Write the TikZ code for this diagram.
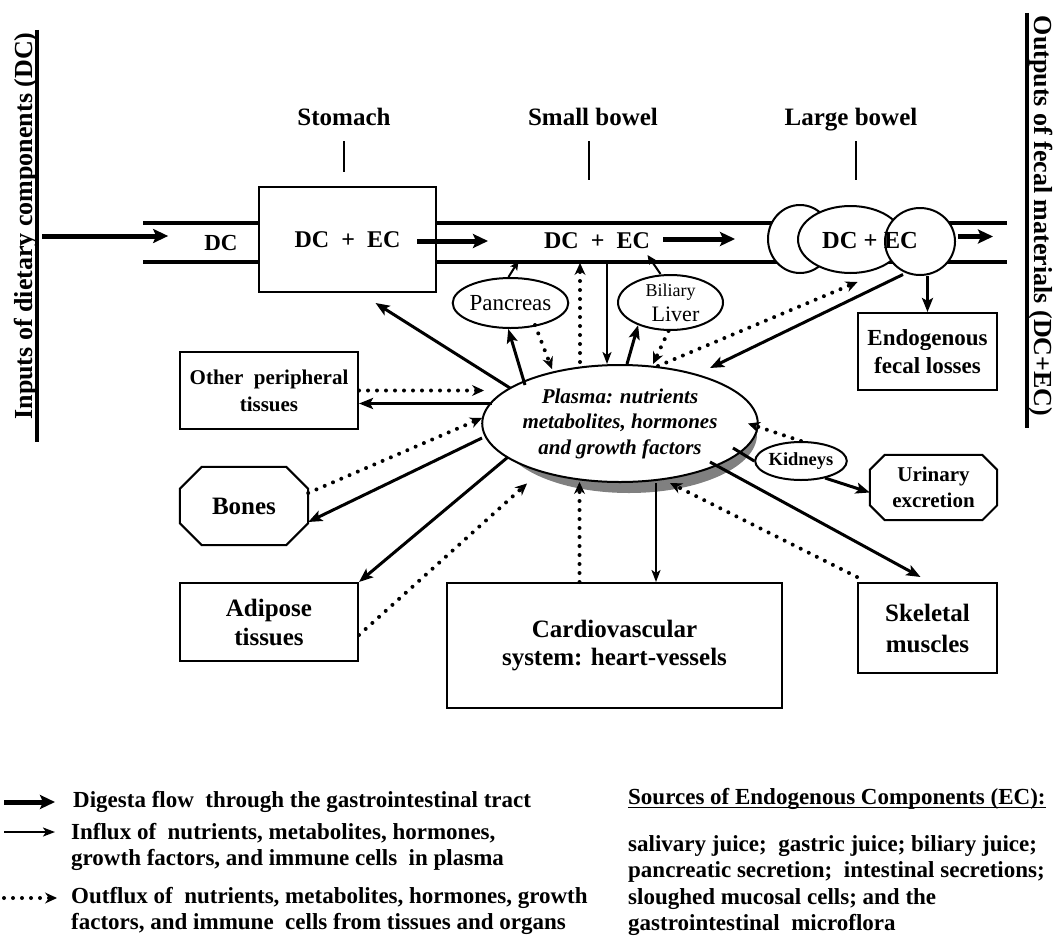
\documentclass[tikz,border=0pt]{standalone}
\usepackage{fontspec}
\setmainfont{Liberation Serif}
\usetikzlibrary{arrows.meta,calc,shapes.geometric}

% octagonal frame round a node: #1 node, #2 corner cut
\newcommand{\octframe}[2]{%
  \draw[line width=2pt] ([xshift=#2]#1.north west) -- ([xshift=-#2]#1.north east)
    -- ([yshift=-#2]#1.north east) -- ([yshift=#2]#1.south east)
    -- ([xshift=-#2]#1.south east) -- ([xshift=#2]#1.south west)
    -- ([yshift=#2]#1.south west) -- ([yshift=-#2]#1.north west) -- cycle;}

\tikzset{
  organ/.style={draw, line width=2pt, fill=white, inner sep=0pt, align=center,
    font=\bfseries\fontsize{25}{29}\selectfont},
  gland/.style={ellipse, draw, line width=2pt, fill=white, inner sep=0pt},
  dcec/.style={inner sep=0pt, font=\bfseries\fontsize{24}{28}\selectfont},
  gutlbl/.style={inner sep=0pt, anchor=base, font=\bfseries\fontsize{25}{29}\selectfont},
  sidelbl/.style={inner sep=0pt, font=\bfseries\fontsize{26}{30}\selectfont},
  legend/.style={inner sep=0pt, anchor=west, align=left, font=\bfseries\fontsize{23}{26.3}\selectfont},
  tract/.style={line width=4pt},
  tick/.style={line width=1.5pt},
  flow/.style={line width=5pt, -{Stealth[length=15pt,width=14pt,inset=3pt]}},
  influx/.style={line width=3pt, -{Stealth[length=14pt,width=11pt,inset=3pt]}},
  thinflux/.style={line width=2pt, -{Stealth[length=12pt,width=9pt,inset=3pt]}},
  smallflux/.style={line width=2pt, -{Stealth[length=9pt,width=8pt,inset=2pt]}},
  outflux/.style={line width=4pt, line cap=round, dash pattern=on 0pt off 9pt,
    -{Stealth[length=12pt,width=11pt,inset=4pt,line width=1pt]}},
}

\begin{document}
\begin{tikzpicture}[x=1pt,y=-1pt]
  \useasboundingbox (0,0) rectangle (1059,950);

  % side titles
  \node[sidelbl, rotate=90] (inputs) at (26,226) {Inputs of dietary components (DC)};
  \draw[line width=4pt] (37,30) -- (37,442);
  \node[sidelbl, rotate=-90] (outputs) at (1041,216) {Outputs of fecal materials (DC+EC)};
  \draw[line width=4pt] (1027,13) -- (1027,428);

  % gastrointestinal tract
  \coordinate (tracttop) at (0,223);
  \coordinate (tractbot) at (0,262);
  \draw[tract] (143,223) -- (1007,223);
  \draw[tract] (143,262) -- (1007,262);

  \node[organ, minimum width=177pt, minimum height=105pt,
    font=\bfseries\fontsize{24}{28}\selectfont] (stomach) at (347.5,239.5) {DC~ +~ EC};
  \node[dcec, font=\bfseries\fontsize{23}{27}\selectfont] (dcin) at (221,243) {DC};
  \node[dcec] (dcsb) at (597,241) {DC~ +~ EC};

  \node[gland, minimum width=64pt, minimum height=68pt] (lbL) at (800,239) {};
  \node[gland, minimum width=105pt, minimum height=67pt] (lbM) at (850.5,239.5) {};
  \node[gland, minimum width=70pt, minimum height=67pt] (lbR) at (920,241.5) {};
  \node[dcec, font=\bfseries\fontsize{24.5}{28}\selectfont] (dclb) at (870,241) {DC + EC};

  \node[gutlbl] (stlbl) at (344,125) {Stomach};
  \node[gutlbl] (sblbl) at (593,125) {Small bowel};
  \node[gutlbl] (lblbl) at (851,125) {Large bowel};
  \draw[tick] ([yshift=-16pt]stlbl.base) -- ++(0,31);
  \draw[tick] ([xshift=-4pt,yshift=-16pt]sblbl.base) -- ++(0,39);
  \draw[tick] ([xshift=5pt,yshift=-16pt]lblbl.base) -- ++(0,39);

  \draw[flow] ([xshift=4pt,yshift=-10pt]inputs.south) -- ++(126,0);
  \draw[flow] ([xshift=-20pt,yshift=-1.5pt]stomach.east) -- ++(71,0);
  \draw[flow] ([xshift=13pt,yshift=2pt]dcsb.east) -- ++(72,0);
  \draw[flow] ([xshift=2pt,yshift=5pt]lbR.east) -- ++(35,0);

  % glands and plasma
  \node[gland, minimum width=105pt, minimum height=50pt,
    font=\fontsize{23}{27}\selectfont] (pancreas) at (510.5,303) {Pancreas};
  \node[gland, minimum width=105pt, minimum height=55pt, align=center,
    font=\fontsize{22}{25}\selectfont] (liver) at (670.5,302.5)
    {{\fontsize{18}{25}\selectfont Biliary}\\\hspace*{10pt}Liver};
  \node[ellipse, fill=black!50, inner sep=0pt, minimum width=256pt,
    minimum height=117pt] (plasmashade) at (629,434.5) {};
  \node[gland, minimum width=256pt, minimum height=117pt, align=center,
    font=\bfseries\itshape\fontsize{21}{25.5}\selectfont] (plasma) at (620,423.5)
    {Plasma: nutrients\\metabolites, hormones\\and growth factors};

  % organs and tissues
  \node[organ, minimum width=139pt, minimum height=77pt,
    font=\bfseries\fontsize{23}{28}\selectfont] (fecal) at (927.5,351.5) {Endogenous\\fecal losses};
  \node[organ, minimum width=178pt, minimum height=77pt,
    font=\bfseries\fontsize{21}{27}\selectfont] (other) at (269,390.5) {Other~ peripheral\\tissues};
  \node[inner sep=0pt, minimum width=128pt, minimum height=78pt,
    font=\bfseries\fontsize{25}{29}\selectfont] (bones) at (244,506) {Bones};
  \octframe{bones}{22pt}
  \node[organ, minimum width=178pt, minimum height=78pt] (adipose) at (269,622) {Adipose\\tissues};
  \node[organ, minimum width=335pt, minimum height=125pt,
    font=\bfseries\fontsize{25}{28}\selectfont] (cardio) at (614.5,645.5) {Cardiovascular\\system: heart-vessels};
  \node[organ, minimum width=139pt, minimum height=90pt,
    font=\bfseries\fontsize{25}{31}\selectfont] (skeletal) at (927.5,628) {Skeletal\\muscles};
  \node[gland, minimum width=88pt, minimum height=38pt,
    font=\bfseries\fontsize{18.5}{22}\selectfont] (kidneys) at (801,461) {Kidneys};
  \node[inner sep=0pt, minimum width=127pt, minimum height=65pt, align=center,
    font=\bfseries\fontsize{21}{26}\selectfont] (urinary) at (933.5,487.5) {Urinary\\excretion};
  \octframe{urinary}{15pt}

  % exchanges between plasma and the tract
  \draw[influx] ($(plasma)+(-110,-35.5)$) -- ($(stomach.south)+(28,10)$);
  \draw[influx] ($(plasma)+(-95,-38.5)$) -- (pancreas.265);
  \draw[smallflux] ($(pancreas.north)+(-2,0)$) -- ($(pancreas.north)+(8,-16)$);
  \draw[outflux] ($(pancreas)+(24.5,22)$) -- ($(plasma)+(-68,-54.5)$);
  \draw[outflux] ($(plasma)+(-40,-61.5)$) -- ($(plasma |- tractbot)+(-40,1)$);
  \draw[thinflux] ($(plasma |- tractbot)+(-13,0)$) -- ($(plasma)+(-13,-59.5)$);
  \draw[influx] ($(plasma)+(7,-59.5)$) -- (liver.215);
  \draw[smallflux] ($(liver.north)+(-10,0)$) -- ($(liver.north)+(-23,-19)$);
  \draw[outflux] ($(liver.south)+(-2,0)$) -- ($(plasma)+(33,-59.5)$);
  \draw[outflux] ($(plasma)+(38,-57.5)$) -- ($(lbM.south)+(7,8)$);
  \draw[influx] ($(lbR)+(-17,33)$) -- ($(plasma)+(90,-55.5)$);
  \draw[influx] (lbR.south -| fecal) -- (fecal.north);

  % exchanges between plasma and the tissues
  \draw[outflux] (other.east) -- ($(other.east -| plasma)+(-136,0)$);
  \draw[influx] ($(other.east -| plasma)+(-128,13)$) -- ([yshift=-13pt]other.east);
  \draw[outflux] ([yshift=13pt]bones.east) -- ($(plasma)+(-138,-5.5)$);
  \draw[influx] ($(plasma)+(-138,14.5)$) -- ([yshift=-16pt]bones.east);
  \draw[influx] ($(plasma)+(-112,33.5)$) -- (adipose.north east);
  \draw[outflux] ([yshift=-13pt]adipose.east) -- ($(plasma)+(-93,60)$);
  \draw[outflux] ($(cardio.north)+(-35,0)$) -- ($(plasma)+(-40.5,58.5)$);
  \draw[thinflux] ($(plasma)+(36,59.5)$) -- ($(cardio.north)+(41.5,0)$);
  \draw[influx] ($(plasma)+(90,38.5)$) -- ($(skeletal.north)+(-7,-5)$);
  \draw[outflux] ([yshift=5pt]skeletal.north west) -- ($(plasma)+(50,59.5)$);
  \draw[line width=3pt] ($(plasma)+(113,24.5)$) -- (kidneys.west);
  \draw[outflux] (kidneys.north) -- ($(plasma)+(128,0)$);
  \draw[influx] ($(kidneys)+(24,17)$) -- ([yshift=-5pt]urinary.west);

  % legend
  \node[legend] (lgflow) at (73,802) {Digesta flow~ through the gastrointestinal tract};
  \draw[flow] ([xshift=-69pt]lgflow.west) -- ([xshift=-18pt]lgflow.west);
  \node[legend] (lgin) at (71,847) {Influx of~ nutrients, metabolites, hormones,\\growth factors, and immune cells~ in plasma};
  \draw[thinflux] ([xshift=-67pt,yshift=15pt]lgin.west) -- ([xshift=-16pt,yshift=15pt]lgin.west);
  \node[legend] (lgout) at (71,911) {Outflux of~ nutrients, metabolites, hormones, growth\\factors, and immune~ cells from tissues and organs};
  \draw[outflux] ([xshift=-67pt,yshift=13pt]lgout.west) -- ([xshift=-14pt,yshift=13pt]lgout.west);

  \node[legend] (lgsrc) at (628,799) {Sources of Endogenous Components (EC):};
  \draw[line width=1.8pt] ([yshift=-3pt]lgsrc.base west) -- ([yshift=-3pt]lgsrc.base east);
  \node[legend] (lgsrclist) at (628,885.5) {salivary juice;~ gastric juice; biliary juice;\\pancreatic secretion;~ intestinal secretions;\\sloughed mucosal cells; and the\\gastrointestinal~ microflora};
\end{tikzpicture}
\end{document}
